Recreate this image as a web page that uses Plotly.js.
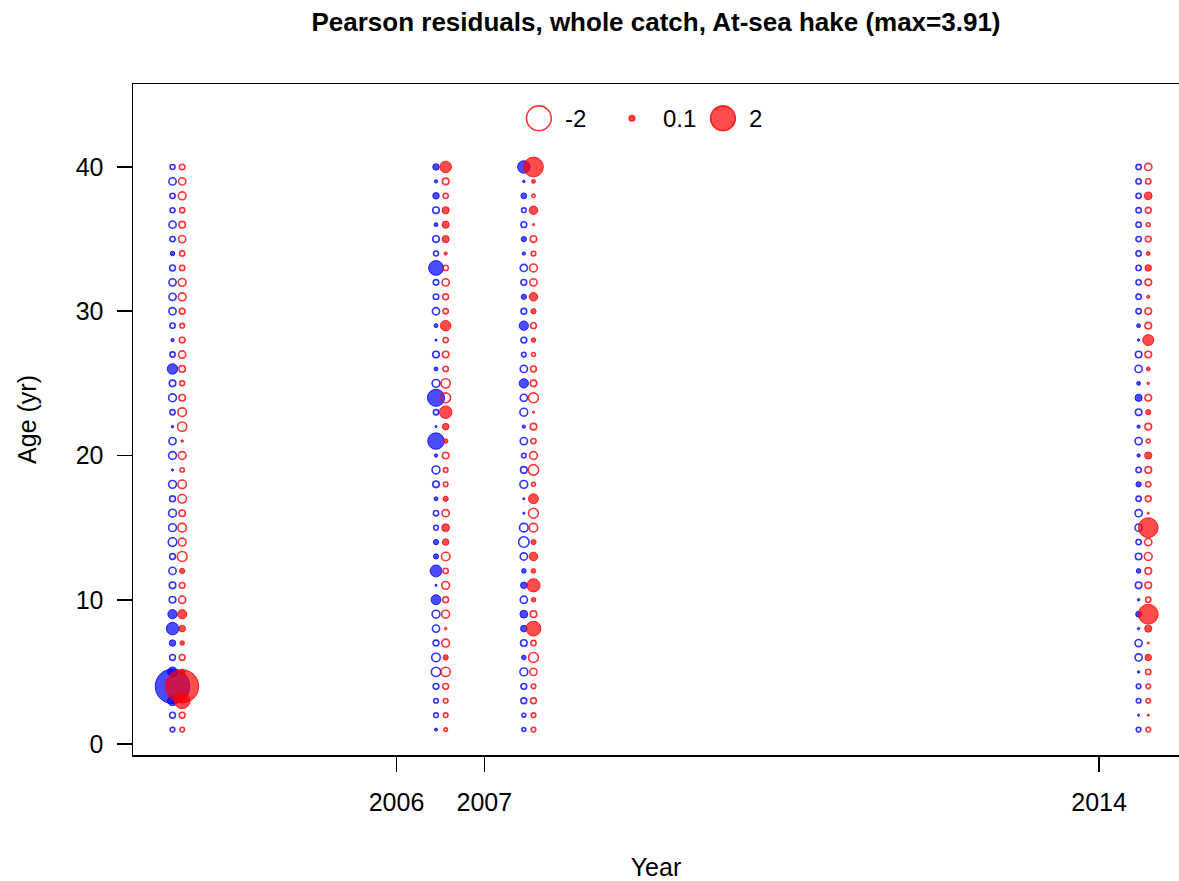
<!DOCTYPE html>
<html><head><meta charset="utf-8">
<script src="https://cdn.plot.ly/plotly-3.0.1.min.js"></script>
<style>html,body{margin:0;padding:0;background:#fff}</style>
</head><body><div id="chart" style="width:1179px;height:881px"></div>
<script>
// Survey years (columns) and ages (rows)
const years = [2003, 2006, 2007, 2014];
const ages = [1,2,3,4,5,6,7,8,9,10,11,12,13,14,15,16,17,18,19,20,21,22,23,24,25,26,27,28,29,30,31,32,33,34,35,36,37,38,39,40];

// Pearson residuals by age 1..40, females (red) and males (blue)
const fem2003 = [-0.07,-0.11,0.82,3.6,0.1,-0.11,0.07,0.14,0.28,-0.17,-0.11,0.09,-0.32,-0.2,-0.24,-0.14,-0.24,-0.24,-0.06,-0.2,0.02,-0.28,-0.24,-0.14,-0.08,-0.14,-0.17,-0.11,-0.07,-0.11,-0.2,-0.2,-0.09,-0.09,-0.17,-0.14,-0.09,-0.2,-0.17,-0.1];
const mal2003 = [-0.07,-0.11,0.32,3.91,0.32,-0.11,0.14,0.51,0.28,-0.14,-0.14,-0.17,-0.11,-0.24,-0.2,-0.2,-0.11,-0.2,0.015,-0.2,-0.17,0.02,-0.09,-0.2,-0.14,0.36,-0.09,0.035,-0.09,-0.17,-0.17,-0.17,-0.11,0.07,-0.09,-0.17,-0.08,-0.09,-0.17,-0.08];
const fem2006 = [-0.04,-0.07,-0.07,-0.11,-0.28,0.09,-0.2,0.02,-0.2,-0.11,-0.2,-0.09,-0.24,0.14,0.2,-0.17,0.09,-0.07,-0.07,-0.14,0.07,0.14,0.51,-0.32,-0.28,-0.09,-0.14,-0.09,0.36,-0.09,-0.11,-0.17,-0.09,0.035,0.17,0.17,0.17,-0.09,-0.14,0.44];
const mal2006 = [0.03,-0.07,-0.07,-0.11,-0.28,-0.24,-0.11,-0.17,-0.2,0.32,0.015,0.46,0.09,0.09,-0.07,-0.09,0.05,-0.14,-0.2,0.035,0.89,0.015,-0.09,0.96,-0.2,0.05,-0.14,0.015,0.05,-0.17,-0.1,-0.1,0.72,-0.08,-0.14,0.05,-0.14,0.14,0.035,0.14];
const fem2007 = [-0.07,-0.07,-0.11,-0.07,-0.17,-0.32,-0.09,0.72,-0.14,0.07,0.57,0.07,0.24,0.09,-0.24,-0.32,0.32,-0.05,-0.36,-0.2,-0.09,-0.14,0.015,-0.32,-0.14,-0.11,-0.05,0.07,-0.11,0.09,0.24,-0.17,-0.2,-0.07,-0.14,0.015,0.24,-0.035,0.05,1.28];
const mal2007 = [-0.05,-0.05,-0.11,-0.11,-0.2,0.07,-0.14,0.14,0.2,-0.17,0.14,0.07,-0.17,-0.36,-0.24,0.015,0.015,-0.2,-0.14,-0.07,-0.17,0.035,-0.2,-0.17,0.28,-0.17,-0.07,-0.11,0.28,-0.11,0.09,-0.11,-0.17,0.035,0.09,-0.11,-0.07,0.11,0.02,0.51];
const fem2014 = [-0.07,0.015,-0.07,-0.07,-0.09,0.14,0.015,0.17,1.28,-0.09,-0.14,-0.14,-0.2,-0.17,1.28,0.015,-0.11,-0.09,-0.14,0.17,-0.05,-0.14,0.09,-0.14,0.02,0.05,-0.14,0.4,-0.14,-0.14,0.035,-0.14,0.14,0.05,-0.11,-0.05,-0.11,0.2,-0.09,-0.17];
const mal2014 = [-0.07,0.015,-0.07,-0.07,0.02,-0.17,-0.17,0.02,0.11,0.02,-0.14,0.07,-0.14,-0.09,-0.17,-0.17,-0.09,0.09,-0.09,0.035,-0.17,0.035,-0.14,0.17,0.05,-0.17,-0.14,0.02,0.05,-0.09,-0.09,-0.09,-0.09,-0.09,-0.09,-0.09,-0.09,-0.09,-0.09,-0.09];

const femaleSeries = [fem2003, fem2006, fem2007, fem2014];
const maleSeries = [mal2003, mal2006, mal2007, mal2014];

const tickYears = [2006, 2007, 2014];
const yTicks = [0, 10, 20, 30, 40];
const legendValues = [-2, 0.1, 2];
const legendLabels = ['-2', '0.1', '2'];

// ---- styling ----
const FONT = 'Liberation Sans, Arial, sans-serif';
const SCALE = 17.5;
const maleOffset = 0.45, femaleOffset = 0.56;
const RED = 'rgba(255,0,0,0.7)', BLUE = 'rgba(0,0,255,0.7)';
const RED_LINE = 'rgba(255,0,0,0.8)', BLUE_LINE = 'rgba(0,0,255,0.8)';
const sz = v => SCALE * Math.sqrt(Math.abs(v));

function buildTraces(series, offset, color, lineColor, name) {
  const open = {x: [], y: [], s: []}, filled = {x: [], y: [], s: []};
  series.forEach((vals, i) => {
    vals.forEach((v, j) => {
      const t = v < 0 ? open : filled;
      t.x.push(years[i] + offset); t.y.push(ages[j]); t.s.push(sz(v));
    });
  });
  return [
    {type: 'scatter', mode: 'markers', name: name + ' neg', x: open.x, y: open.y, hoverinfo: 'skip',
     marker: {symbol: 'circle-open', size: open.s, opacity: 1, color: lineColor, line: {width: 1.6, color: lineColor}}},
    {type: 'scatter', mode: 'markers', name: name + ' pos', x: filled.x, y: filled.y, hoverinfo: 'skip',
     marker: {symbol: 'circle', size: filled.s, opacity: 1, color: color, line: {width: 1, color: lineColor}}}
  ];
}

const traces = [
  ...buildTraces(maleSeries, maleOffset, BLUE, BLUE_LINE, 'male'),
  ...buildTraces(femaleSeries, femaleOffset, RED, RED_LINE, 'female')
];

// legend markers drawn on an overlay axis (0..1 of the plot area)
const legendX = [0.388, 0.477, 0.564];
const legendTextX = [0.411, 0.505, 0.587];
const legendY = 0.949;
traces.push({
  type: 'scatter', mode: 'markers', xaxis: 'x2', yaxis: 'y2', hoverinfo: 'skip',
  x: legendX, y: legendValues.map(() => legendY),
  marker: {
    symbol: legendValues.map(v => v < 0 ? 'circle-open' : 'circle'),
    size: legendValues.map(v => Math.max(sz(v), 5)),
    opacity: 1,
    color: legendValues.map(v => v < 0 ? RED_LINE : RED),
    line: {width: 1.6, color: RED_LINE}
  }
});

const annotations = legendLabels.map((t, i) => ({
  text: t, xref: 'paper', yref: 'paper', x: legendTextX[i], y: legendY,
  xanchor: 'left', yanchor: 'middle', showarrow: false,
  font: {family: FONT, size: 24, color: '#000'}
}));

const axisCommon = {
  showgrid: false, zeroline: false, showline: true, linecolor: '#000', linewidth: 1.5,
  mirror: true, ticks: 'outside', ticklen: 15, tickwidth: 1.5, tickcolor: '#000',
  tickfont: {family: FONT, size: 25, color: '#000'}
};

const layout = {
  width: 1179, height: 881,
  margin: {l: 133, r: 0, t: 84, b: 126},
  paper_bgcolor: '#fff', plot_bgcolor: '#fff',
  showlegend: false,
  title: {text: '<b>Pearson residuals, whole catch, At-sea hake (max=3.91)</b>',
          font: {family: FONT, size: 26, color: '#000'},
          x: 0.5, xref: 'paper', xanchor: 'center', y: 1 - 22 / 881, yref: 'container', yanchor: 'middle'},
  xaxis: Object.assign({}, axisCommon, {
    range: [2003.0, 2014.91], tickvals: tickYears, ticktext: tickYears.map(String),
    ticklabelstandoff: 9,
    title: {text: 'Year', font: {family: FONT, size: 25, color: '#000'}, standoff: 46}
  }),
  yaxis: Object.assign({}, axisCommon, {
    range: [-0.76, 45.75], tickvals: yTicks, ticktext: yTicks.map(String),
    ticklabelstandoff: 8,
    title: {text: 'Age (yr)', font: {family: FONT, size: 25, color: '#000'}, standoff: 32}
  }),
  xaxis2: {overlaying: 'x', range: [0, 1], visible: false, fixedrange: true},
  yaxis2: {overlaying: 'y', range: [0, 1], visible: false, fixedrange: true},
  annotations: annotations
};

Plotly.newPlot('chart', traces, layout, {displayModeBar: false, staticPlot: true});
</script>
</body></html>
